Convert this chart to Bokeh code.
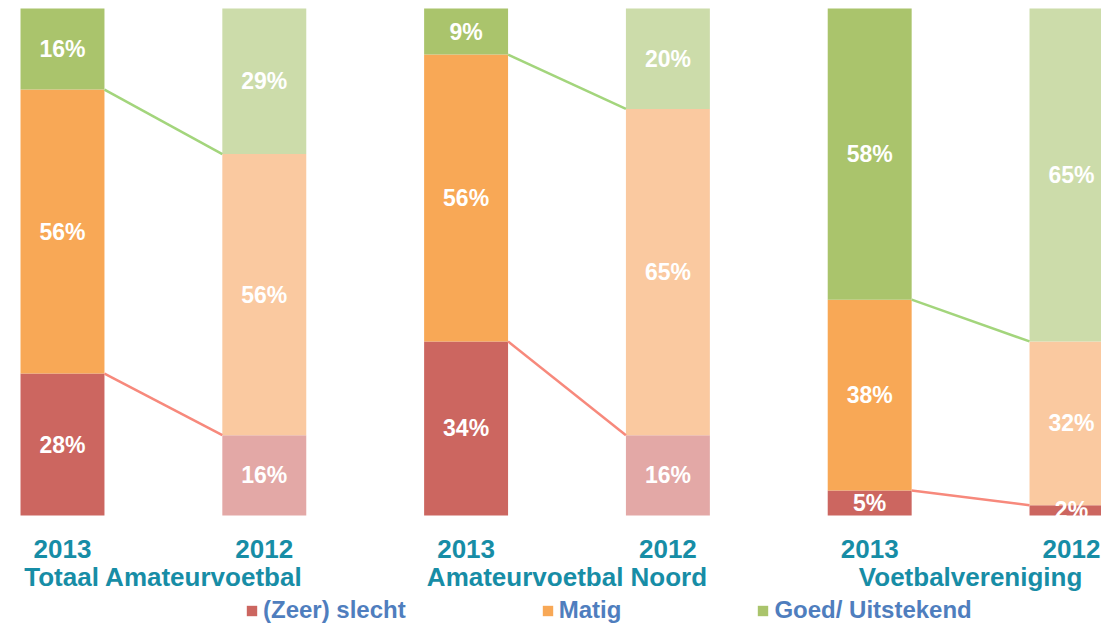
from bokeh.plotting import figure
from bokeh.models import ColumnDataSource, Range1d, Legend, LegendItem
from bokeh.core.properties import value
from bokeh.embed import file_html
from bokeh.resources import INLINE

# ---------------- data ----------------
groups = ["Totaal Amateurvoetbal", "Amateurvoetbal Noord", "Voetbalvereniging"]
years = ["2013", "2012"]
categories = ["(Zeer) slecht", "Matig", "Goed/ Uitstekend"]

slecht_2013 = [28, 34, 5]
slecht_2012 = [16, 16, 2]
matig_2013 = [56, 56, 38]
matig_2012 = [56, 65, 32]
goed_2013 = [16, 9, 58]
goed_2012 = [29, 20, 65]

# ---------------- styles ----------------
FONT = "Liberation Sans"
TEAL = "#178DA6"
LEGEND_BLUE = "#4F7EBE"
RED_DARK, RED_LIGHT = "#CC6660", "#E3A8A6"
OR_DARK, OR_LIGHT = "#F8A856", "#FAC9A0"
GR_DARK, GR_LIGHT = "#AAC46C", "#CCDCAA"
LINE_GREEN = "#A3D57C"
LINE_RED = "#F7897C"
BAR_W = 0.416

# per bar (order: group0 2013, group0 2012, group1 2013, ...)
red_colors = [RED_DARK, RED_LIGHT, RED_DARK, RED_LIGHT, RED_DARK, RED_DARK]
or_colors = [OR_DARK, OR_LIGHT] * 3
gr_colors = [GR_DARK, GR_LIGHT] * 3

# ---------------- build bar table ----------------
xs, red, mat, good, year_lab, raw = [], [], [], [], [], []
for g in range(len(groups)):
    for j, (r, m, gd) in enumerate([(slecht_2013[g], matig_2013[g], goed_2013[g]),
                                    (slecht_2012[g], matig_2012[g], goed_2012[g])]):
        xs.append(2 * g + j)
        tot = r + m + gd
        red.append(100.0 * r / tot)
        mat.append(100.0 * m / tot)
        good.append(100.0 * gd / tot)
        year_lab.append(years[j])
        raw.append((r, m, gd))

b0 = [0.0] * 6
t0 = red
b1 = red
t1 = [a + b for a, b in zip(red, mat)]
b2 = t1
t2 = [a + b for a, b in zip(t1, good)]


def make_src(bot, top, colors, k):
    return ColumnDataSource(dict(x=xs, bottom=bot, top=top, color=colors,
                                 lab=[f"{v[k]}%" for v in raw],
                                 mid=[(a + b) / 2 for a, b in zip(bot, top)]))


src_red = make_src(b0, t0, red_colors, 0)
src_or = make_src(b1, t1, or_colors, 1)
src_gr = make_src(b2, t2, gr_colors, 2)

W, H = 1101, 624
p = figure(width=W, height=H, output_backend="svg", toolbar_location=None,
           x_axis_type=None, y_axis_type=None, min_border=0,
           x_range=Range1d(-0.3072, 5.1487), y_range=Range1d(-21.499, 101.578))
p.grid.visible = False
p.outline_line_color = None
p.background_fill_color = "white"
p.border_fill_color = "white"

renderers = []
for src in (src_red, src_or, src_gr):
    r = p.vbar(x="x", bottom="bottom", top="top", width=BAR_W, source=src,
               fill_color="color", line_color=None)
    renderers.append(r)

# connector lines
sx0, sy0, sx1, sy1 = [], [], [], []
gx0, gy0, gx1, gy1 = [], [], [], []
for g in range(len(groups)):
    a, b = 2 * g, 2 * g + 1
    sx0.append(xs[a] + BAR_W / 2); sy0.append(t0[a])
    sx1.append(xs[b] - BAR_W / 2); sy1.append(t0[b])
    gx0.append(xs[a] + BAR_W / 2); gy0.append(t1[a])
    gx1.append(xs[b] - BAR_W / 2); gy1.append(t1[b])
p.segment(x0=sx0, y0=sy0, x1=sx1, y1=sy1, line_color=LINE_RED, line_width=2.5)
p.segment(x0=gx0, y0=gy0, x1=gx1, y1=gy1, line_color=LINE_GREEN, line_width=2.5)

# value labels
for src in (src_red, src_or, src_gr):
    p.text(x="x", y="mid", text="lab", source=src, text_color="white",
           text_font=value(FONT), text_font_style="bold", text_font_size="23px",
           text_align="center", text_baseline="middle")

# year labels
p.text(x=xs, y=[-6.6] * 6, text=year_lab, text_color=TEAL,
       text_font=value(FONT), text_font_style="bold", text_font_size="26px",
       text_align="center", text_baseline="middle")

# group labels
gx = [2 * g + 0.5 for g in range(len(groups))]
p.text(x=gx, y=[-12.1] * 3, text=groups, text_color=TEAL,
       text_font=value(FONT), text_font_style="bold", text_font_size="26px",
       text_align="center", text_baseline="middle")

# legend
items = [LegendItem(label=categories[k], renderers=[renderers[k]], index=0)
         for k in range(3)]
legend = Legend(items=items, orientation="horizontal", location=(245, 0),
                spacing=135, glyph_width=13, glyph_height=13, label_standoff=5,
                padding=0, margin=0, border_line_color=None,
                background_fill_alpha=0,
                label_text_font=FONT, label_text_font_style="bold",
                label_text_font_size="24px", label_text_color=LEGEND_BLUE)
p.add_layout(legend, "center")

open("out.html", "w").write(file_html(p, INLINE))
